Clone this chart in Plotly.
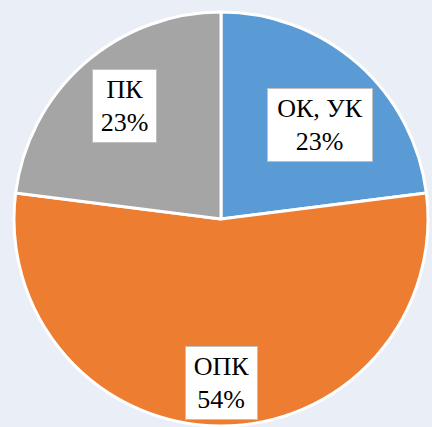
import math
import plotly.graph_objects as go

# data
labels = ['ОК, УК', 'ОПК', 'ПК']
values = [23, 54, 23]
colors = ['#5b9bd5', '#ed7d31', '#a5a5a5']

W, H = 432, 427
BG = '#e9eef7'

# pie placement in pixels (center / radius)
CX, CY, R = 221, 219, 207

fig = go.Figure(go.Pie(
    labels=labels, values=values, sort=False, direction='clockwise', rotation=0,
    marker=dict(colors=colors, line=dict(color='white', width=3)),
    textinfo='none', hoverinfo='label+percent',
    domain=dict(x=[(CX - R) / W, (CX + R) / W], y=[1 - (CY + R) / H, 1 - (CY - R) / H]),
))

# label boxes placed along each slice's mid angle
label_r = [0.66, 0.79, 0.72]
label_nudge = [5, 0, 1]
box_w = [100, 67, 59]

total = sum(values)
start = 0
annots = []
for i, (lab, v) in enumerate(zip(labels, values)):
    mid = start + v / total * 360 / 2 + label_nudge[i]
    start += v / total * 360
    a = math.radians(mid)
    px = CX + label_r[i] * R * math.sin(a)
    py = CY - label_r[i] * R * math.cos(a)
    pct = round(v / total * 100)
    annots.append(dict(
        x=px / W, y=1 - py / H, xref='paper', yref='paper',
        xanchor='center', yanchor='middle',
        text=f'{lab}<br>{pct}%', showarrow=False,
        font=dict(family='Liberation Serif', size=26, color='black'),
        bgcolor='white', bordercolor='#bfbfbf', borderwidth=1, borderpad=2,
        width=box_w[i], height=68, align='center', valign='middle',
    ))

fig.update_layout(
    width=W, height=H, margin=dict(l=0, r=0, t=0, b=0),
    paper_bgcolor=BG, plot_bgcolor=BG, showlegend=False,
    annotations=annots,
)

fig.write_html("out.html", config={'displayModeBar': False},
               post_script="document.body.style.margin='0';")
